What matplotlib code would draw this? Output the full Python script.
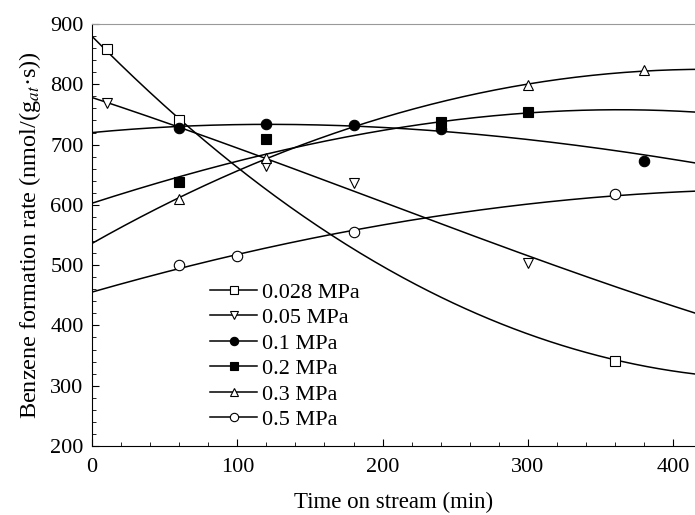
import numpy as np
import matplotlib
matplotlib.use("Agg")
import matplotlib.pyplot as plt
from matplotlib.ticker import MultipleLocator

plt.rcParams['font.family'] = ['Liberation Serif', 'DejaVu Serif']
plt.rcParams['mathtext.fontset'] = 'stix'

labels = ["0.028 MPa", "0.05 MPa", "0.1 MPa", "0.2 MPa", "0.3 MPa", "0.5 MPa"]
markers = ["s", "v", "o", "s", "^", "o"]
filled = [False, False, True, True, False, False]

# measured points
t_028 = [10, 60, 360]
r_028 = [858, 741, 341]
t_05 = [10, 120, 180, 300]
r_05 = [769, 665, 636, 504]
t_1 = [60, 120, 180, 240, 380]
r_1 = [727, 734, 732, 725, 673]
t_2 = [60, 120, 240, 300]
r_2 = [638, 709, 737, 754]
t_3 = [60, 120, 300, 380]
r_3 = [610, 678, 799, 824]
t_5 = [60, 100, 180, 360]
r_5 = [500, 515, 555, 618]

# fitted trend curves
ft_028 = [0, 10, 60, 159, 200, 300, 360, 415]
fr_028 = [878, 858, 741, 562, 495, 388, 341, 320]
ft_05 = [0, 60, 120, 180, 229, 285, 415]
fr_05 = [779, 728, 672, 630, 578, 526, 421]
ft_1 = [0, 60, 120, 180, 246, 300, 380, 415]
fr_1 = [721, 728, 733, 733, 721, 708, 681, 671]
ft_2 = [0, 60, 120, 170, 240, 300, 415]
fr_2 = [603, 646, 684, 711, 738, 752, 754]
ft_3 = [0, 60, 120, 170, 300, 380, 415]
fr_3 = [537, 610, 676, 724, 799, 822, 825]
ft_5 = [0, 60, 100, 180, 229, 360, 415]
fr_5 = [453, 500, 516, 555, 578, 618, 621]

series_t = [t_028, t_05, t_1, t_2, t_3, t_5]
series_r = [r_028, r_05, r_1, r_2, r_3, r_5]
fit_t = [ft_028, ft_05, ft_1, ft_2, ft_3, ft_5]
fit_r = [fr_028, fr_05, fr_1, fr_2, fr_3, fr_5]

fig = plt.figure(figsize=(6.95, 5.15), dpi=100)
ax = fig.add_axes([0.1324, 0.134, 0.8676, 0.8194])

tt = np.linspace(0, 415, 300)
handles = []
for t, r, a, b, m, f, lab in zip(series_t, series_r, fit_t, fit_r, markers, filled, labels):
    coef = np.polyfit(a, b, 3)
    ax.plot(tt, np.polyval(coef, tt), color='black', lw=1.1, zorder=2)
    ax.plot(t, r, linestyle='none', marker=m, markersize=7.5,
            markerfacecolor='black' if f else 'white', markeredgecolor='black',
            markeredgewidth=0.8, zorder=3)
    h, = ax.plot([], [], color='black', lw=1.1, marker=m, markersize=6,
                 markerfacecolor='black' if f else 'white', markeredgecolor='black',
                 markeredgewidth=0.8)
    handles.append(h)

ax.set_xlim(0, 415)
ax.set_ylim(200, 900)
ax.xaxis.set_major_locator(MultipleLocator(100))
ax.xaxis.set_minor_locator(MultipleLocator(20))
ax.yaxis.set_major_locator(MultipleLocator(100))
ax.yaxis.set_minor_locator(MultipleLocator(20))
ax.tick_params(which='both', direction='in', labelsize=16)
ax.tick_params(which='major', length=5)
ax.tick_params(which='minor', length=3)
ax.tick_params(axis='x', which='major', pad=9)
ax.tick_params(axis='y', which='major', pad=6)
ax.spines['right'].set_visible(False)
ax.spines['top'].set_color('#999999')
ax.spines['top'].set_linestyle((0, (2, 1)))

ax.set_xlabel("Time on stream (min)", fontsize=16.5, labelpad=10)
ax.set_ylabel("Benzene formation rate (nmol/(g$_{at}$·s))", fontsize=17.5, labelpad=5)

ax.legend(handles, labels, loc='upper left', bbox_to_anchor=(0.196, 0.388),
          frameon=False, fontsize=16, handlelength=2.1, handletextpad=0.25,
          labelspacing=0.22, borderaxespad=0, borderpad=0)

fig.savefig("out.png", dpi=100)
